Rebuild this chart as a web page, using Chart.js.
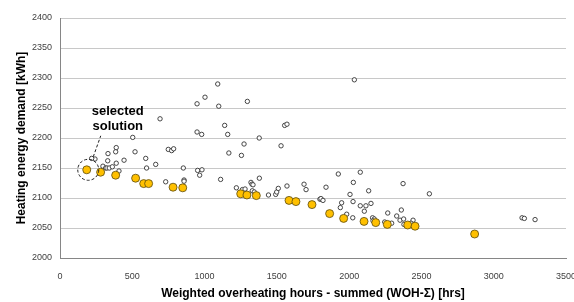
<!DOCTYPE html>
<html>
<head>
<meta charset="utf-8">
<script src="https://cdn.jsdelivr.net/npm/chart.js@4"></script>
<style>
  html, body { margin: 0; padding: 0; background: #fff; }
  canvas { display: block; }
</style>
</head>
<body>
<canvas id="draw-on-me" width="574" height="302"></canvas>
<script>
// all evaluated variants
const wohAll = [948, 1098, 1296, 692, 948, 980, 1139, 1160, 1273, 503, 519, 389, 385, 332, 443, 330, 242, 219, 389, 297,
  316, 325, 341, 362, 408, 593, 599, 662, 749, 772, 786, 853, 731, 858, 858, 952, 982, 966, 1111, 1168,
  1255, 1220, 1262, 1280, 1321, 1328, 1335, 1379, 1091, 1003, 1378, 1554, 1570, 2036, 1529, 1330, 1344, 1442, 1492, 1499,
  1510, 1570, 1688, 1702, 1798, 1925, 2077, 2029, 2373, 1840, 1805, 1819, 2006, 2135, 1948, 1939, 2027, 2077, 2116, 2151,
  2105, 1983, 2025, 2267, 2361, 2329, 2352, 2377, 2442, 2162, 2174, 2165, 2246, 2294, 2379, 2428, 2555, 3196, 3212, 3286]
const heatAll = [2257, 2253, 2261, 2232, 2210, 2206, 2221, 2206, 2190, 2201, 2177, 2184, 2177, 2174, 2163, 2162, 2165, 2166, 2158, 2153,
  2150, 2150, 2150, 2152, 2145, 2166, 2150, 2156, 2181, 2179, 2182, 2150, 2127, 2130, 2128, 2146, 2147, 2138, 2131, 2175,
  2171, 2117, 2114, 2115, 2126, 2123, 2122, 2133, 2290, 2268, 2200, 2221, 2223, 2297, 2187, 2112, 2110, 2105, 2106, 2110,
  2116, 2120, 2123, 2114, 2098, 2140, 2143, 2126, 2124, 2118, 2099, 2096, 2106, 2112, 2092, 2084, 2094, 2087, 2087, 2091,
  2078, 2073, 2067, 2075, 2080, 2070, 2063, 2065, 2063, 2067, 2065, 2062, 2060, 2058, 2056, 2058, 2107, 2067, 2066, 2064]

// pareto front
const wohPareto = [185, 281, 385, 523, 579, 613, 782, 849, 1250, 1293, 1358, 1584, 1632, 1743, 1865, 1962, 2103, 2184, 2264, 2405, 2456, 2868]
const heatPareto = [2147, 2143, 2138, 2133, 2124, 2124, 2118, 2117, 2107, 2105, 2104, 2096, 2094, 2089, 2074, 2066, 2061, 2059, 2056, 2055, 2053, 2040]

const xTicks = [0, 500, 1000, 1500, 2000, 2500, 3000, 3500]
const yTicks = [2000, 2050, 2100, 2150, 2200, 2250, 2300, 2350, 2400]

const selectedIdx = 0
const noteLines = ['selected', 'solution']

const toPts = (xs, ys) => xs.map((v, i) => ({ x: v, y: ys[i] }))
const FONT = '"Liberation Sans", Arial, sans-serif'

// dashed circle + leader line + label
const selectedNote = {
  id: 'selectedNote',
  afterDatasetsDraw(chart) {
    const c = chart.ctx
    const sx = chart.scales.x, sy = chart.scales.y
    const px = sx.getPixelForValue(wohPareto[selectedIdx])
    const py = sy.getPixelForValue(heatPareto[selectedIdx])
    c.save()
    c.strokeStyle = '#222'
    c.lineWidth = 1
    c.setLineDash([3, 2])
    c.beginPath()
    c.arc(px + 1.5, py, 10.5, 0, Math.PI * 2)
    c.stroke()
    c.beginPath()
    c.moveTo(px + 6.5, py - 13)
    c.lineTo(px + 14, py - 34)
    c.stroke()
    c.setLineDash([])
    c.fillStyle = '#000'
    c.font = 'bold 13px ' + FONT
    c.textAlign = 'center'
    c.textBaseline = 'middle'
    noteLines.forEach((t, i) => c.fillText(t, px + 31, py - 58 + i * 15))
    c.restore()
  }
}

const ctx = document.getElementById('draw-on-me').getContext('2d')
const myChart = new Chart(ctx, {
  type: 'scatter',
  data: {
    datasets: [{
      label: 'Pareto',
      data: toPts(wohPareto, heatPareto),
      backgroundColor: '#FFC000',
      borderColor: '#5a4a10',
      borderWidth: 0.8,
      pointRadius: 4,
    }, {
      label: 'All',
      data: toPts(wohAll, heatAll),
      backgroundColor: '#ffffff',
      borderColor: '#333333',
      borderWidth: 0.9,
      pointRadius: 2.2,
    }]
  },
  options: {
    responsive: false,
    animation: false,
    devicePixelRatio: 1,
    layout: { autoPadding: false, padding: { top: 18, right: 8, left: 0, bottom: 0 } },
    plugins: { legend: { display: false }, tooltip: { enabled: false } },
    scales: {
      x: {
        type: 'linear', min: 0, max: 3500,
        afterBuildTicks: s => { s.ticks = xTicks.map(v => ({ value: v })) },
        afterFit: s => { s.height = 44; s.paddingLeft = 0; s.paddingRight = 0 },
        grid: { display: false },
        border: { display: true, color: '#868686' },
        ticks: { font: { family: FONT, size: 9 }, color: '#404040', padding: 5, maxRotation: 0, callback: v => String(v) },
        title: {
          display: true,
          text: 'Weighted overheating hours - summed (WOH-Σ) [hrs]',
          font: { family: FONT, size: 12, weight: 'bold' },
          color: '#000',
          padding: { top: 0, bottom: 1 }
        }
      },
      y: {
        type: 'linear', min: 2000, max: 2400,
        afterBuildTicks: s => { s.ticks = yTicks.map(v => ({ value: v })) },
        afterFit: s => { s.width = 60; s.paddingTop = 0; s.paddingBottom = 0 },
        grid: { color: '#c8c8c8', drawTicks: false },
        border: { display: true, color: '#868686' },
        ticks: { font: { family: FONT, size: 9 }, color: '#404040', padding: 8, callback: v => String(v) },
        title: {
          display: true,
          text: 'Heating energy demand [kWh]',
          font: { family: FONT, size: 12, weight: 'bold' },
          color: '#000',
          padding: { top: 14, bottom: 0 }
        }
      }
    }
  },
  plugins: [selectedNote]
})
</script>
</body>
</html>
